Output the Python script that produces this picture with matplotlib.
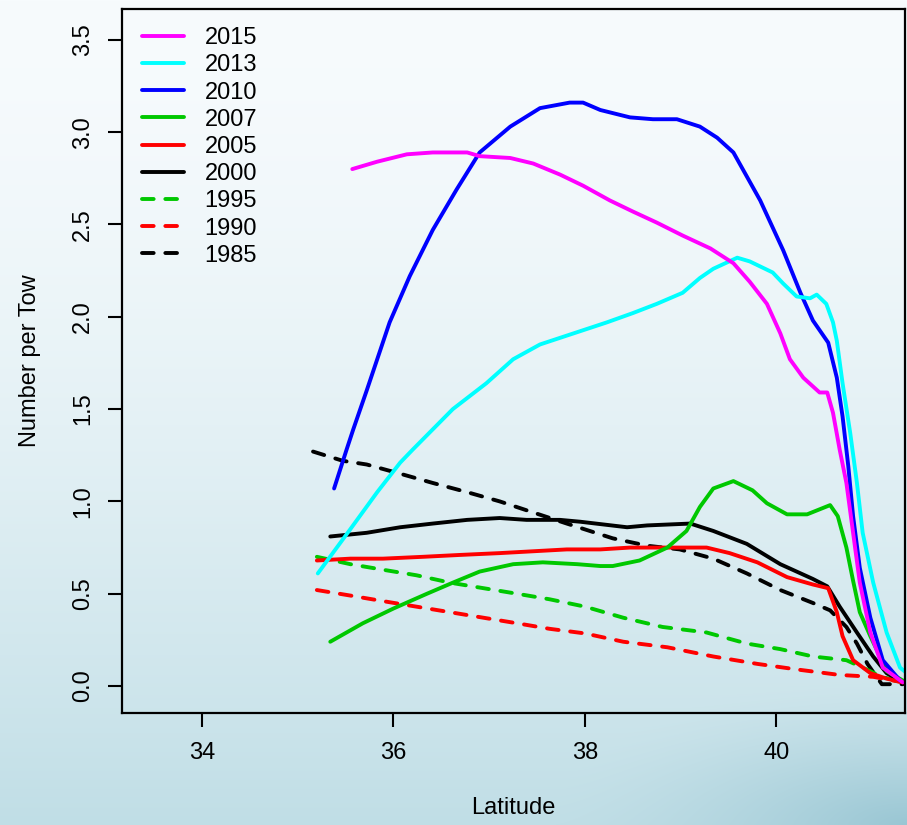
import numpy as np
import matplotlib
matplotlib.use("Agg")
import matplotlib.pyplot as plt

plt.rcParams['font.family'] = ['Liberation Sans', 'DejaVu Sans']

# ---- data (latitude, number per tow) ----
lat_2015 = [35.57, 35.83, 36.14, 36.41, 36.77, 36.90, 37.22, 37.46, 37.74, 37.98, 38.26, 38.50, 38.75, 39.02, 39.31, 39.55, 39.72, 39.90, 40.04, 40.14, 40.28, 40.45, 40.53, 40.59, 40.66, 40.73, 40.80, 40.87, 40.98, 41.11, 41.32]
val_2015 = [2.80, 2.84, 2.88, 2.89, 2.89, 2.87, 2.86, 2.83, 2.77, 2.71, 2.63, 2.57, 2.51, 2.44, 2.37, 2.29, 2.19, 2.07, 1.91, 1.77, 1.67, 1.59, 1.59, 1.48, 1.28, 1.10, 0.83, 0.56, 0.29, 0.10, 0.02]

lat_2013 = [35.21, 35.55, 35.83, 36.07, 36.20, 36.41, 36.62, 36.97, 37.25, 37.53, 37.88, 38.23, 38.50, 38.75, 39.02, 39.20, 39.34, 39.59, 39.72, 39.96, 40.07, 40.21, 40.35, 40.42, 40.52, 40.59, 40.63, 40.69, 40.77, 40.84, 40.90, 41.01, 41.15, 41.29, 41.36]
val_2013 = [0.61, 0.85, 1.05, 1.21, 1.28, 1.39, 1.50, 1.64, 1.77, 1.85, 1.91, 1.97, 2.02, 2.07, 2.13, 2.21, 2.26, 2.32, 2.30, 2.24, 2.18, 2.11, 2.10, 2.12, 2.07, 1.97, 1.87, 1.64, 1.37, 1.10, 0.83, 0.56, 0.29, 0.10, 0.07]

lat_2010 = [35.38, 35.51, 35.58, 35.72, 35.96, 36.17, 36.41, 36.66, 36.90, 37.22, 37.53, 37.84, 37.98, 38.16, 38.47, 38.71, 38.96, 39.20, 39.38, 39.55, 39.69, 39.83, 40.07, 40.25, 40.38, 40.54, 40.63, 40.69, 40.75, 40.80, 40.87, 40.98, 41.11, 41.29]
val_2010 = [1.07, 1.28, 1.39, 1.60, 1.97, 2.22, 2.47, 2.69, 2.89, 3.03, 3.13, 3.16, 3.16, 3.12, 3.08, 3.07, 3.07, 3.03, 2.97, 2.89, 2.76, 2.63, 2.36, 2.13, 1.98, 1.86, 1.67, 1.46, 1.19, 0.92, 0.64, 0.37, 0.14, 0.03]

lat_2007 = [35.34, 35.68, 36.00, 36.35, 36.62, 36.90, 37.25, 37.56, 37.92, 38.16, 38.29, 38.57, 38.86, 39.06, 39.20, 39.34, 39.55, 39.75, 39.90, 40.11, 40.32, 40.56, 40.64, 40.73, 40.80, 40.87, 40.98, 41.08, 41.15, 41.32]
val_2007 = [0.24, 0.34, 0.42, 0.50, 0.56, 0.62, 0.66, 0.67, 0.66, 0.65, 0.65, 0.68, 0.75, 0.84, 0.97, 1.07, 1.11, 1.06, 0.99, 0.93, 0.93, 0.98, 0.92, 0.75, 0.57, 0.40, 0.27, 0.16, 0.08, 0.03]

lat_2005 = [35.20, 35.55, 35.89, 36.31, 36.69, 37.11, 37.46, 37.81, 38.16, 38.47, 38.99, 39.27, 39.51, 39.80, 40.11, 40.38, 40.54, 40.63, 40.69, 40.80, 40.98, 41.15, 41.32]
val_2005 = [0.68, 0.69, 0.69, 0.70, 0.71, 0.72, 0.73, 0.74, 0.74, 0.75, 0.75, 0.75, 0.72, 0.67, 0.59, 0.55, 0.53, 0.40, 0.27, 0.14, 0.07, 0.04, 0.02]

lat_2000 = [35.34, 35.72, 36.07, 36.41, 36.77, 37.11, 37.39, 37.74, 37.95, 38.44, 38.65, 39.10, 39.34, 39.69, 40.04, 40.38, 40.53, 40.66, 40.84, 41.01, 41.15, 41.32]
val_2000 = [0.81, 0.83, 0.86, 0.88, 0.90, 0.91, 0.90, 0.90, 0.89, 0.86, 0.87, 0.88, 0.84, 0.77, 0.66, 0.58, 0.54, 0.43, 0.29, 0.16, 0.07, 0.02]

lat_1995 = [35.20, 35.55, 35.89, 36.24, 36.59, 36.94, 37.29, 37.63, 38.00, 38.40, 38.81, 39.27, 39.69, 40.04, 40.38, 40.73, 40.90, 41.10, 41.32]
val_1995 = [0.70, 0.66, 0.63, 0.60, 0.56, 0.53, 0.50, 0.47, 0.43, 0.37, 0.32, 0.29, 0.23, 0.20, 0.16, 0.14, 0.10, 0.05, 0.02]

lat_1990 = [35.20, 35.55, 35.89, 36.24, 36.59, 36.94, 37.29, 37.63, 38.00, 38.40, 38.86, 39.34, 39.80, 40.21, 40.66, 41.01, 41.32]
val_1990 = [0.52, 0.49, 0.46, 0.43, 0.40, 0.37, 0.34, 0.31, 0.285, 0.24, 0.21, 0.16, 0.12, 0.09, 0.06, 0.05, 0.02]

lat_1985 = [35.16, 35.47, 35.72, 36.07, 36.41, 36.77, 37.11, 37.46, 37.81, 38.05, 38.29, 38.65, 38.99, 39.34, 39.69, 40.04, 40.38, 40.56, 40.73, 40.84, 40.95, 41.10, 41.32]
val_1985 = [1.27, 1.22, 1.20, 1.15, 1.10, 1.05, 1.00, 0.94, 0.88, 0.84, 0.80, 0.76, 0.74, 0.69, 0.61, 0.52, 0.45, 0.41, 0.32, 0.23, 0.12, 0.01, 0.01]

years = ["2015", "2013", "2010", "2007", "2005", "2000", "1995", "1990", "1985"]
colors = ["#ff00ff", "#00ffff", "#0000ff", "#00c800", "#ff0000", "#000000", "#00c800", "#ff0000", "#000000"]
dashed = [False, False, False, False, False, False, True, True, True]
series = [(lat_2015, val_2015), (lat_2013, val_2013), (lat_2010, val_2010),
          (lat_2007, val_2007), (lat_2005, val_2005), (lat_2000, val_2000),
          (lat_1995, val_1995), (lat_1990, val_1990), (lat_1985, val_1985)]

x_ticks = [34, 36, 38, 40]
y_ticks = [0.0, 0.5, 1.0, 1.5, 2.0, 2.5, 3.0, 3.5]
y_ticklabels = ["0.0", "0.5", "1.0", "1.5", "2.0", "2.5", "3.0", "3.5"]

W, H = 907, 825
fig = plt.figure(figsize=(W / 100, H / 100), dpi=100)

# ---- background gradient ----
yy, xx = np.mgrid[0:H, 0:W]
t = (yy / H) ** 1.6
top = np.array([247, 251, 253]) / 255
bot = np.array([192, 222, 230]) / 255
img = top[None, None, :] * (1 - t[..., None]) + bot[None, None, :] * t[..., None]
d = np.sqrt(((xx - W) / 360.0) ** 2 + ((yy - H) / 150.0) ** 2)
w = 0.75 * np.clip(1 - d, 0, 1) ** 1.6
corner = np.array([140, 190, 205]) / 255
img = img * (1 - w[..., None]) + corner[None, None, :] * w[..., None]
bg = fig.add_axes([0, 0, 1, 1], zorder=-10)
bg.imshow(img, aspect='auto', extent=[0, 1, 0, 1], interpolation='bilinear')
bg.axis('off')

ax = fig.add_axes([122 / W, 1 - 713 / H, (905 - 122) / W, (713 - 9) / H])
ax.set_facecolor('none')

lw = 2.8
for (xs, ys), yr, c, ds in zip(series[::-1], years[::-1], colors[::-1], dashed[::-1]):
    if ds:
        ax.plot(xs, ys, color=c, lw=lw, dashes=(3.0, 3.0), dash_capstyle='round',
                solid_capstyle='round', label=yr)
    else:
        ax.plot(xs, ys, color=c, lw=lw, solid_capstyle='round', label=yr)

FS = 17
ax.set_xlim(33.165, 41.342)
ax.set_ylim(-0.146, 3.667)
ax.set_xticks(x_ticks)
ax.set_xticklabels([str(v) for v in x_ticks])
ax.set_yticks(y_ticks)
ax.set_yticklabels(y_ticklabels, rotation=90, va='center')
ax.tick_params(axis='both', length=10, width=1.5, labelsize=FS, color='black')
ax.tick_params(axis='x', pad=11)
ax.tick_params(axis='y', pad=10)
for s in ax.spines.values():
    s.set_linewidth(1.6)
    s.set_color('black')

ax.set_xlabel("Latitude", fontsize=FS)
ax.set_ylabel("Number per Tow", fontsize=FS)
ax.xaxis.set_label_coords(0.5, -(808 - 713) / (713 - 9))
ax.yaxis.set_label_coords(-(122 - 30) / (905 - 122), 0.5)
ax.xaxis.label.set_va('center')
ax.yaxis.label.set_va('center')

handles, labels = ax.get_legend_handles_labels()
order = [labels.index(y) for y in years]
leg = ax.legend([handles[i] for i in order], [labels[i] for i in order],
                loc='upper left', bbox_to_anchor=(0.011, 0.991), frameon=False,
                fontsize=FS, handlelength=1.74, handletextpad=0.89,
                labelspacing=0.22, borderpad=0.3, borderaxespad=0.2)

fig.savefig("out.png", dpi=100)
